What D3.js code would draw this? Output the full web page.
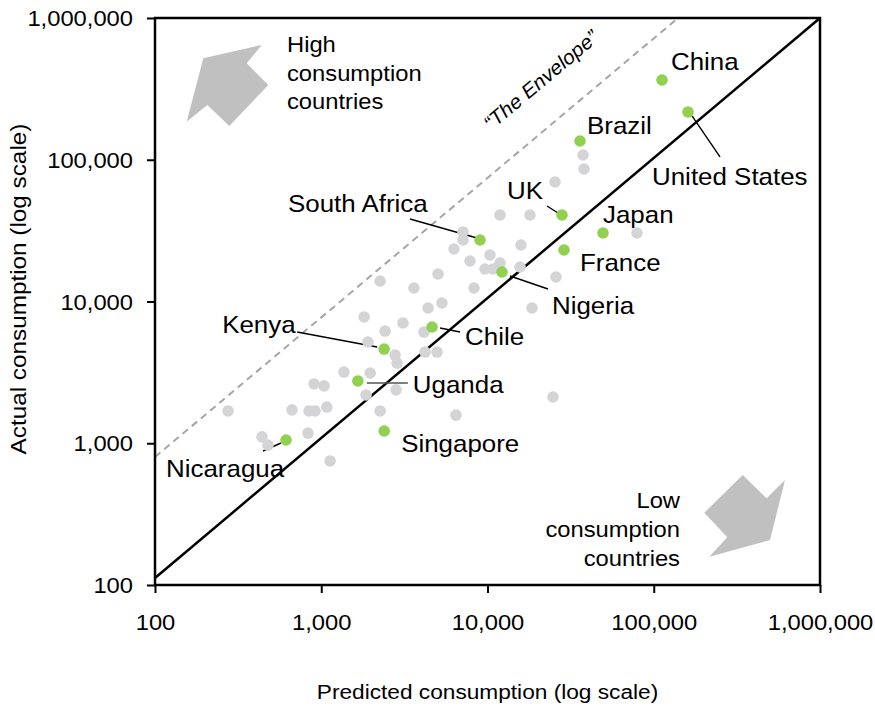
<!DOCTYPE html>
<html>
<head>
<meta charset="utf-8">
<script src="https://cdn.jsdelivr.net/npm/d3@7"></script>
<style>
  body { margin: 0; background: #fff; }
  text { font-family: "Liberation Sans", Arial, Helvetica, sans-serif; fill: #000; }
</style>
</head>
<body>
<svg id="chart" width="875" height="707"></svg>
<script>
// Tick values for both log axes
const xTicks = [100, 1000, 10000, 100000, 1000000];
const yTicks = [100, 1000, 10000, 100000, 1000000];

// Unlabelled countries: predicted vs actual consumption
const otherPredicted = [25470, 37530, 38060, 79280, 11890, 18010, 7120, 7120, 6290, 15900,
  7850, 10350, 11890, 9660, 10790, 15690, 25820, 18520, 5040, 2260,
  3610, 8290, 5320, 4390, 3100, 4150, 2420, 1810, 1910, 4210,
  4970, 2780, 2860, 1370, 1970, 905, 1040, 1860, 2820, 1080,
  2260, 667, 844, 917, 275, 832, 440, 478, 1130, 24770, 6460];
const otherActual = [69660, 108000, 86060, 30420, 40760, 40760, 30920, 27160, 23460, 25040,
  19310, 21280, 18690, 16960, 16960, 17520, 14890, 9000, 15630, 13950,
  12450, 12450, 9760, 9000, 7050, 6090, 6190, 7780, 5180, 4400,
  4400, 4190, 3680, 3180, 3130, 2620, 2540, 2190, 2380, 1800,
  1690, 1720, 1690, 1690, 1690, 1180, 1110, 970, 750, 2120, 1580];

// Highlighted countries
const namedCountries = ["China", "United States", "Brazil", "UK", "Japan", "France",
  "South Africa", "Nigeria", "Chile", "Kenya", "Uganda", "Singapore", "Nicaragua"];
const namedPredicted = [112100, 160700, 36000, 28060, 49520, 28850, 9015, 12220, 4640, 2390, 1660, 2390, 614];
const namedActual = [365300, 217300, 135600, 40760, 30420, 23080, 27160, 16150, 6610, 4620, 2750, 1220, 1054];

// Reference lines (data space)
const parityX = [100, 1000000];
const parityY = [112, 1000000];
const envelopeX = [100, 140000];
const envelopeY = [800, 1000000];

// Label placement for highlighted countries (pixel offsets from the dot)
const labelLayout = {
  "China":         { dx: 9,    dy: -10 },
  "United States": { dx: -36,  dy: 73, lead: [4, 4, 32, 45] },
  "Brazil":        { dx: 7,    dy: -7 },
  "UK":            { dx: -55,  dy: -16, lead: [-15, -9, -4, -2] },
  "Japan":         { dx: 0,    dy: -10 },
  "France":        { dx: 16,   dy: 21 },
  "South Africa":  { dx: -192, dy: -28, lead: [-70, -21, -3, -2] },
  "Nigeria":       { dx: 50,   dy: 42, lead: [8, 4, 46, 17] },
  "Chile":         { dx: 33,   dy: 18, lead: [8, 1, 28, 5] },
  "Kenya":         { dx: -162, dy: -16, lead: [-87, -17, -7, -2] },
  "Uganda":        { dx: 55,   dy: 12, lead: [9, 2, 50, 2], leadColor: "#555" },
  "Singapore":     { dx: 17,   dy: 21 },
  "Nicaragua":     { dx: -120, dy: 37, lead: [-23, 11, -5, 3] }
};

const STRETCH = 1.08;
const svg = d3.select("#chart");

const plotLeft = 155, plotRight = 820, plotTop = 18, plotBottom = 585;
const x = d3.scaleLog().domain([100, 1000000]).range([plotLeft, plotRight]);
const y = d3.scaleLog().domain([100, 1000000]).range([plotBottom, plotTop]);

// Decorative block arrows
const highArrow = [[203.3, 58.3], [261.7, 45], [246.7, 63.3], [268.3, 85], [229.3, 126], [207.3, 105], [186.7, 121.7]];
const lowArrow = [[742.7, 475], [766.7, 498.3], [785, 480], [770, 540], [709.3, 556.7], [727.3, 537.3], [704.3, 512.7]];
svg.selectAll("polygon.arrow").data([highArrow, lowArrow]).join("polygon")
  .attr("class", "arrow")
  .attr("points", d => d.map(p => p.join(",")).join(" "))
  .attr("fill", "#c0c0c0");

function stretchedText(g, px, py, str, size, anchor) {
  return g.append("text")
    .attr("transform", `translate(${px},${py}) scale(${STRETCH},1)`)
    .attr("text-anchor", anchor || "start")
    .attr("font-size", size)
    .text(str);
}

// Corner annotations
const ann = svg.append("g");
["High", "consumption", "countries"].forEach((t, i) => stretchedText(ann, 287, 52 + i * 28.7, t, 22, "start"));
["Low", "consumption", "countries"].forEach((t, i) => stretchedText(ann, 680, 508 + i * 29, t, 22, "end"));

// Envelope (dashed) and parity (solid) lines
const line = d3.line().x(d => x(d[0])).y(d => y(d[1]));
svg.append("path")
  .attr("d", line(d3.zip(envelopeX, envelopeY)))
  .attr("stroke", "#a6a6a6").attr("stroke-width", 2).attr("stroke-dasharray", "7,5").attr("fill", "none");
svg.append("path")
  .attr("d", line(d3.zip(parityX, parityY)))
  .attr("stroke", "#000").attr("stroke-width", 2.5).attr("fill", "none");

svg.append("text")
  .attr("transform", "translate(491,131) rotate(-40) scale(1.04,1)")
  .attr("font-size", 20)
  .attr("font-style", "italic")
  .text("\u201CThe Envelope\u201D");

// Leader lines
const named = namedCountries.map((n, i) => ({ name: n, px: namedPredicted[i], act: namedActual[i] }));
svg.append("g").selectAll("line").data(named.filter(d => labelLayout[d.name].lead)).join("line")
  .attr("x1", d => x(d.px) + labelLayout[d.name].lead[0])
  .attr("y1", d => y(d.act) + labelLayout[d.name].lead[1])
  .attr("x2", d => x(d.px) + labelLayout[d.name].lead[2])
  .attr("y2", d => y(d.act) + labelLayout[d.name].lead[3])
  .attr("stroke", d => labelLayout[d.name].leadColor || "#000")
  .attr("stroke-width", 1.4);

// Dots
const others = otherPredicted.map((v, i) => ({ px: v, act: otherActual[i] }));
svg.append("g").selectAll("circle").data(others).join("circle")
  .attr("cx", d => x(d.px)).attr("cy", d => y(d.act)).attr("r", 5.8)
  .attr("fill", "#d4d4d6");
svg.append("g").selectAll("circle").data(named).join("circle")
  .attr("cx", d => x(d.px)).attr("cy", d => y(d.act)).attr("r", 5.8)
  .attr("fill", "#92d050");

// Country labels
const lbl = svg.append("g");
named.forEach(d => {
  const L = labelLayout[d.name];
  stretchedText(lbl, x(d.px) + L.dx, y(d.act) + L.dy, d.name, 24, "start");
});

// Axes
const fmt = d3.format(",");
const gx = svg.append("g").attr("transform", `translate(0,${plotBottom})`)
  .call(d3.axisBottom(x).tickValues(xTicks).tickFormat(fmt).tickSize(8).tickSizeOuter(0));
gx.select(".domain").remove();
gx.selectAll(".tick line").attr("stroke", "#000").attr("stroke-width", 2);
gx.selectAll(".tick text")
  .attr("y", 45).attr("dy", null)
  .attr("font-size", 22).attr("font-family", null)
  .attr("transform", `scale(${STRETCH},1)`);

const gy = svg.append("g").attr("transform", `translate(${plotLeft},0)`)
  .call(d3.axisLeft(y).tickValues(yTicks).tickFormat(fmt).tickSize(8).tickSizeOuter(0));
gy.select(".domain").remove();
gy.selectAll(".tick line").attr("stroke", "#000").attr("stroke-width", 2);
gy.selectAll(".tick text")
  .attr("x", -22 / STRETCH).attr("dy", "0.35em")
  .attr("font-size", 22).attr("font-family", null)
  .attr("transform", `scale(${STRETCH},1)`);

// Plot frame
svg.append("rect")
  .attr("x", plotLeft).attr("y", plotTop)
  .attr("width", plotRight - plotLeft).attr("height", plotBottom - plotTop)
  .attr("fill", "none").attr("stroke", "#000").attr("stroke-width", 2.5);

// Axis titles
stretchedText(svg, (plotLeft + plotRight) / 2, 699, "Predicted consumption (log scale)", 21, "middle");
svg.append("text")
  .attr("transform", `translate(26,289) rotate(-90) scale(${STRETCH},1)`)
  .attr("text-anchor", "middle")
  .attr("font-size", 22.5)
  .text("Actual consumption (log scale)");
</script>
</body>
</html>
